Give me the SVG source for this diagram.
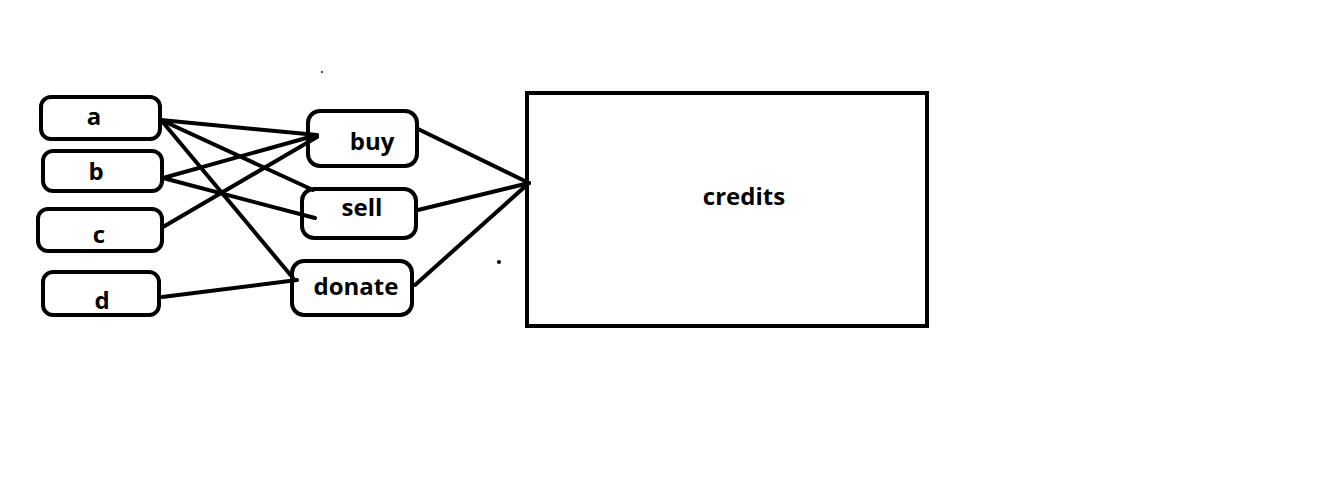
<svg xmlns="http://www.w3.org/2000/svg" width="1327" height="477" viewBox="0 0 1327 477">
<style>
.n{fill:#fff;stroke:#000;stroke-width:4}
.t{font-family:"Open Sans","DejaVu Sans",sans-serif;font-weight:bold;font-size:24px;text-anchor:middle;fill:#000}
.c{stroke:#000;stroke-width:4;stroke-linecap:round;fill:none}
</style>
<rect width="1327" height="477" fill="#fff"/>
<g id="a"><rect class="n" x="41" y="97" width="119" height="42" rx="10"/><text class="t" x="94" y="125">a</text></g>
<g id="b"><rect class="n" x="43" y="151" width="119" height="40" rx="10"/><text class="t" x="96" y="180">b</text></g>
<g id="c"><rect class="n" x="38" y="209" width="124" height="42" rx="10"/><text class="t" x="99" y="243">c</text></g>
<g id="d"><rect class="n" x="43" y="272" width="116" height="43" rx="10"/><text class="t" x="102" y="309">d</text></g>
<g id="buy"><rect class="n" x="308" y="111" width="109" height="55" rx="12"/><text class="t" x="372" y="150">buy</text></g>
<g id="sell"><rect class="n" x="302" y="189" width="114" height="49" rx="12"/><text class="t" x="362" y="216">sell</text></g>
<g id="donate"><rect class="n" x="292" y="261" width="120" height="54" rx="12"/><text class="t" x="356" y="295">donate</text></g>
<g id="credits"><rect class="n" x="527" y="93" width="400" height="233"/><text class="t" x="744" y="205">credits</text></g>
<g id="connectors">
<line class="c" x1="161" y1="120" x2="317" y2="135"/>
<line class="c" x1="161" y1="120" x2="313" y2="190"/>
<line class="c" x1="161" y1="120" x2="293" y2="278"/>
<line class="c" x1="163" y1="178" x2="317" y2="135"/>
<line class="c" x1="163" y1="178" x2="315" y2="218"/>
<line class="c" x1="163" y1="227" x2="317" y2="137"/>
<line class="c" x1="162" y1="297" x2="297" y2="280"/>
<line class="c" x1="418" y1="129" x2="529" y2="183"/>
<line class="c" x1="418" y1="210" x2="529" y2="183"/>
<line class="c" x1="415" y1="285" x2="529" y2="183"/>
</g>
<circle cx="322" cy="72" r="1" fill="#000"/>
<circle cx="499" cy="262" r="2" fill="#000"/>
</svg>
